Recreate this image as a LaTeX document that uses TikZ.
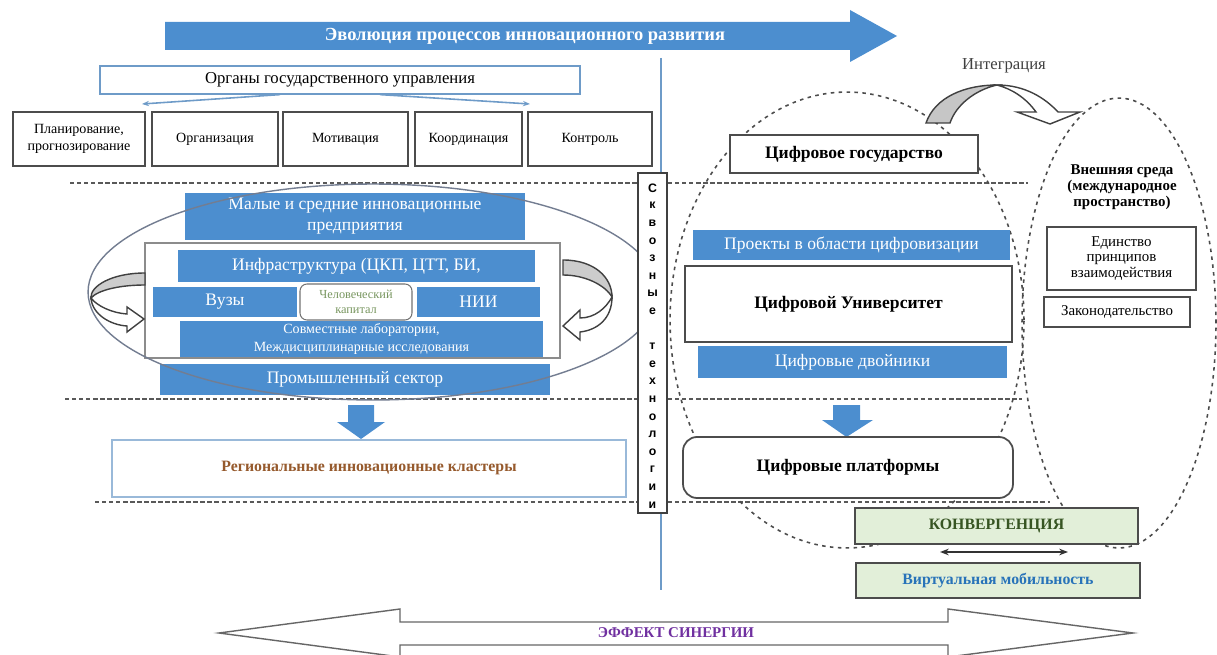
\documentclass[tikz,border=0pt]{standalone}
\usepackage{fontspec}
\setmainfont{Liberation Serif}
\newfontfamily\barfont{Liberation Sans}
\usetikzlibrary{arrows.meta}
\definecolor{boxblue}{RGB}{76,142,207}
\definecolor{lineblue}{RGB}{110,155,200}
\definecolor{ellgray}{RGB}{115,125,145}
\definecolor{clustbrown}{RGB}{150,90,45}
\definecolor{humangreen}{RGB}{120,150,95}
\definecolor{convfill}{RGB}{226,239,217}
\definecolor{convgreen}{RGB}{55,85,35}
\definecolor{virtblue}{RGB}{40,115,185}
\definecolor{synpurple}{RGB}{112,48,160}
\begin{document}
\begin{tikzpicture}[x=0.02cm, y=-0.02cm,
    sz/.style 2 args={minimum width=#1*0.02cm, minimum height=#2*0.02cm},
    blk/.style={fill=boxblue, text=white, inner sep=0pt, align=center, font=\fontsize{10}{12}\selectfont},
    wbox/.style={draw=black!70, line width=0.9pt, fill=white, inner sep=0pt, align=center, font=\fontsize{8}{10}\selectfont},
    sepline/.style={black!65, line width=1pt, dash pattern=on 2.5pt off 1.5pt},
    dotell/.style={black!70, line width=0.9pt, dash pattern=on 2pt off 2.5pt},
    twist/.style={draw=black!75, line width=0.8pt}]
  \useasboundingbox (0,0) rectangle (1217,655);
  \clip (0,0) rectangle (1217,655);

  \fill [boxblue] (165,22) -- (850,22) -- (850,10) -- (897,36) -- (850,62) -- (850,50) -- (165,50) -- cycle;
  \node [text=white, font=\bfseries\fontsize{10.5}{12}\selectfont] (evol) at (525,36) {Эволюция процессов инновационного развития};

  \draw [sepline] (70,183) -- (638,183);
  \draw [sepline] (65,399) -- (638,399);
  \draw [sepline] (95,502) -- (638,502);
  \draw [sepline] (668,183) -- (1028,183);
  \draw [sepline] (668,399) -- (1022,399);
  \draw [sepline] (668,502) -- (1050,502);

  \draw [dotell] (847,320) ellipse [x radius=3.54cm, y radius=4.56cm];
  \draw [dotell] (1119,323) ellipse [x radius=1.94cm, y radius=4.5cm];
  \draw [lineblue, line width=0.8pt] (661,58) -- (661,590);

  \node [wbox, draw=lineblue, line width=0.7pt, sz={480}{28}, font=\fontsize{9.5}{11}\selectfont] (organs) at (340,80) {Органы государственного управления};
  \coordinate (toplan) at (142,104);
  \coordinate (tocontr) at (530,104);
  \draw [lineblue, line width=0.9pt, -{Stealth[length=4pt,width=3pt]}] ([xshift=-1.2cm]organs.south) -- (toplan);
  \draw [lineblue, line width=0.9pt, -{Stealth[length=4pt,width=3pt]}] ([xshift=0.8cm]organs.south) -- (tocontr);

  \node [wbox, sz={132}{54}] (plan) at (79,139) {Планирование,\\прогнозирование};
  \node [wbox, sz={126}{54}] (organiz) at (215,139) {Организация};
  \node [wbox, sz={125}{54}] (motiv) at (345.5,139) {Мотивация};
  \node [wbox, sz={107}{54}] (coord) at (468.5,139) {Координация};
  \node [wbox, sz={124}{54}] (contr) at (590,139) {Контроль};

  \node [blk, sz={340}{47}] (smes) at (355,216.5) {Малые и средние инновационные\\предприятия};
  \node [wbox, draw=black!45, line width=0.6pt, sz={415}{115}] (core) at (352.5,300.5) {};
  \node [blk, sz={357}{32}] (infra) at (356.5,266) {Инфраструктура (ЦКП, ЦТТ, БИ,};
  \node [blk, sz={144}{30}] (vuz) at (225,302) {Вузы};
  \node [wbox, draw=black!55, line width=0.6pt, rounded corners=4pt, sz={112}{36}, text=humangreen, font=\fontsize{7}{8.5}\selectfont] (human) at (356,302) {Человеческий\\капитал};
  \node [blk, sz={123}{30}] (nii) at (478.5,302) {НИИ};
  \node [blk, sz={363}{36}, font=\fontsize{8}{10}\selectfont] (labs) at (361.5,339) {Совместные лаборатории,\\Междисциплинарные исследования};
  \node [blk, sz={390}{31}] (prom) at (355,379.5) {Промышленный сектор};
  \draw [ellgray, line width=0.8pt] (373,292) ellipse [x radius=5.7cm, y radius=2.16cm];

  \filldraw [twist, fill=gray!40] (145,273) .. controls (112,273) and (90,286) .. (91,298) .. controls (98,290) and (120,285) .. (145,285) -- cycle;
  \filldraw [twist, fill=white] (91,298) .. controls (92,314) and (110,325) .. (127,326) -- (127,332) -- (144,319) -- (127,307) -- (127,314) .. controls (112,313) and (97,306) .. (91,298) -- cycle;
  \filldraw [twist, fill=gray!40] (563,260) .. controls (595,260) and (612,278) .. (612,297) .. controls (605,285) and (585,275) .. (563,275) -- cycle;
  \filldraw [twist, fill=white] (612,297) .. controls (612,318) and (598,330) .. (580,332) -- (580,340) -- (563,326) -- (580,310) -- (580,318) .. controls (595,318) and (606,308) .. (612,297) -- cycle;

  \fill [boxblue] (348,405) -- (374,405) -- (374,422) -- (385,422) -- (361,439) -- (337,422) -- (348,422) -- cycle;
  \node [wbox, draw=lineblue!70, line width=0.8pt, sz={514}{57}, text=clustbrown, font=\bfseries\fontsize{9}{11}\selectfont] (clust) at (369,468.5) {Региональные инновационные кластеры};

  \node [wbox, draw=black!75, line width=1pt, sz={29}{340}] (bar) at (652.5,343) {};
  \foreach \ch [count=\i] in {С,к,в,о,з,н,ы,е,{},т,е,х,н,о,л,о,г,и,и}
    \node [font=\barfont\bfseries\fontsize{7}{8}\selectfont, inner sep=0pt] at (652.5,{188+(\i-1)*17.6}) {\ch};

  \node [wbox, line width=1pt, sz={248}{38}, font=\bfseries\fontsize{10}{12}\selectfont] (gos) at (854,154) {Цифровое государство};
  \node [blk, sz={317}{30}] (proj) at (851.5,245) {Проекты в области цифровизации};
  \node [wbox, line width=1pt, sz={327}{76}, font=\bfseries\fontsize{10}{12}\selectfont] (univ) at (848.5,304) {Цифровой Университет};
  \node [blk, sz={309}{32}] (twins) at (852.5,362) {Цифровые двойники};
  \fill [boxblue] (833,405) -- (860,405) -- (860,420) -- (873,420) -- (846.5,437) -- (822,420) -- (833,420) -- cycle;
  \node [wbox, line width=1pt, rounded corners=8pt, sz={330}{61}, font=\bfseries\fontsize{10}{12}\selectfont] (plat) at (848,467.5) {Цифровые платформы};

  \node [text=black!75, font=\fontsize{9.5}{11}\selectfont] (integr) at (1004,66) {Интеграция};
  \filldraw [twist, fill=gray!45] (926,123) .. controls (935,97) and (965,85) .. (997,85) .. controls (975,90) and (956,105) .. (950,123) -- cycle;
  \filldraw [twist, fill=white] (997,85) .. controls (1025,85) and (1045,98) .. (1058,112) -- (1080,112) -- (1050,124) -- (1017,112) -- (1036,112) .. controls (1026,98) and (1012,89) .. (997,85) -- cycle;

  \node [align=center, font=\bfseries\fontsize{8.5}{9}\selectfont] (ext) at (1122,187) {Внешняя среда\\(международное\\пространство)};
  \node [wbox, sz={149}{63}, font=\fontsize{8.5}{9}\selectfont] (unity) at (1121.5,258.5) {Единство\\принципов\\взаимодействия};
  \node [wbox, sz={146}{30}, font=\fontsize{8.5}{10}\selectfont] (law) at (1117,312) {Законодательство};

  \node [wbox, fill=convfill, sz={283}{36}, text=convgreen, font=\bfseries\fontsize{9}{11}\selectfont] (conv) at (996.5,526) {КОНВЕРГЕНЦИЯ};
  \node [wbox, fill=convfill, sz={284}{35}, text=virtblue, font=\bfseries\fontsize{9}{11}\selectfont] (virt) at (998,580.5) {Виртуальная мобильность};
  \coordinate (convl) at (940,552);
  \coordinate (convr) at (1068,552);
  \draw [black!80, line width=1.3pt, {Stealth[length=5pt]}-{Stealth[length=5pt]}] (convl) -- (convr);

  \filldraw [draw=black!60, fill=white, line width=0.8pt] (219,633) -- (400,609) -- (400,622) -- (948,622) -- (948,609) -- (1133,633) -- (948,657) -- (948,645) -- (400,645) -- (400,657) -- cycle;
  \node [text=synpurple, font=\bfseries\fontsize{8.5}{10}\selectfont] (syn) at (676,633) {ЭФФЕКТ СИНЕРГИИ};
\end{tikzpicture}
\end{document}
